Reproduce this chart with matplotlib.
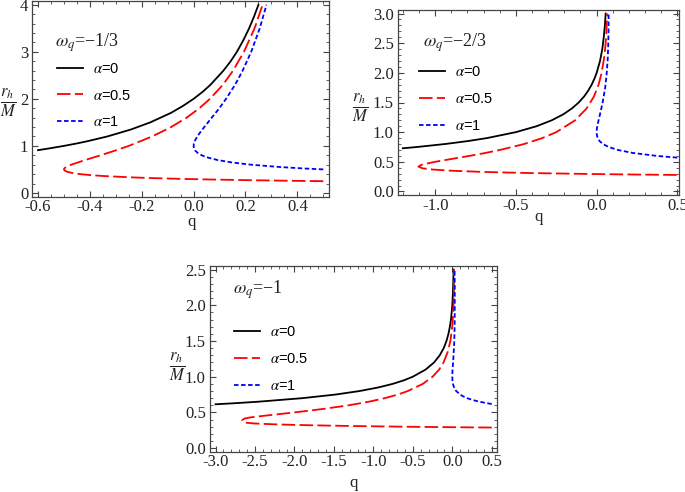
import matplotlib
matplotlib.use('Agg')
import matplotlib.pyplot as plt
from matplotlib.ticker import MultipleLocator

plt.rcParams['mathtext.fontset'] = 'stix'
plt.rcParams['font.family'] = ['Liberation Serif', 'DejaVu Serif']

# ---------------- data (r_h/M on y, q on x) ----------------
# omega_q = -1/3
r_w1_a0 = [0.909, 0.95, 1.0, 1.05, 1.1, 1.2, 1.35, 1.5, 1.7, 1.85, 2.0, 2.15, 2.3, 2.6, 2.8, 3.0, 3.25, 3.5, 3.75, 4.0]
q_w1_a0 = [-0.600, -0.553, -0.500, -0.452, -0.409, -0.333, -0.241, -0.167, -0.088, -0.041, 0.000, 0.035, 0.065, 0.115, 0.143, 0.167, 0.192, 0.214, 0.233, 0.250]
r_w1_a05 = [0.25, 0.26, 0.27, 0.285, 0.30, 0.315, 0.33, 0.36, 0.38, 0.40, 0.42, 0.45, 0.475, 0.50, 0.525, 0.55, 0.60, 0.70, 0.80, 0.90, 1.0, 1.2, 1.4, 1.6, 1.8, 2.0, 2.3, 2.6, 3.0, 3.5, 4.0]
q_w1_a05 = [0.500, 0.352, 0.226, 0.069, -0.056, -0.155, -0.235, -0.349, -0.400, -0.438, -0.464, -0.488, -0.497, -0.500, -0.498, -0.492, -0.472, -0.418, -0.359, -0.303, -0.250, -0.160, -0.087, -0.027, 0.022, 0.063, 0.113, 0.152, 0.194, 0.235, 0.266]
r_w1_a1 = [0.50, 0.52, 0.55, 0.60, 0.65, 0.70, 0.75, 0.80, 0.85, 0.90, 0.95, 1.0, 1.05, 1.1, 1.2, 1.3, 1.4, 1.6, 1.8, 2.0, 2.3, 2.6, 3.0, 3.5, 4.0]
q_w1_a1 = [0.500, 0.426, 0.335, 0.222, 0.145, 0.092, 0.056, 0.031, 0.016, 0.006, 0.001, 0.000, 0.001, 0.004, 0.014, 0.027, 0.041, 0.070, 0.099, 0.125, 0.160, 0.189, 0.222, 0.255, 0.281]

# omega_q = -2/3
r_w2_a0 = [0.728, 0.75, 0.80, 0.85, 0.90, 1.0, 1.1, 1.2, 1.3, 1.4, 1.5, 1.6, 1.7, 1.8, 1.9, 2.0, 2.2, 2.4, 2.6, 2.8, 3.0]
q_w2_a0 = [-1.200, -1.111, -0.938, -0.796, -0.679, -0.500, -0.372, -0.278, -0.207, -0.153, -0.111, -0.078, -0.052, -0.031, -0.014, 0.000, 0.021, 0.035, 0.044, 0.051, 0.056]
r_w2_a05 = [0.278, 0.285, 0.295, 0.31, 0.32, 0.33, 0.35, 0.37, 0.39, 0.419, 0.45, 0.50, 0.55, 0.60, 0.65, 0.70, 0.80, 0.90, 1.0, 1.2, 1.4, 1.6, 1.8, 2.0, 2.3, 2.6, 3.0]
q_w2_a05 = [0.496, 0.243, -0.058, -0.401, -0.574, -0.711, -0.904, -1.018, -1.078, -1.104, -1.084, -1.000, -0.894, -0.787, -0.687, -0.598, -0.449, -0.336, -0.250, -0.133, -0.062, -0.017, 0.012, 0.031, 0.049, 0.059, 0.065]
r_w2_a1 = [0.57, 0.60, 0.65, 0.70, 0.75, 0.80, 0.85, 0.90, 0.95, 1.0, 1.05, 1.1, 1.2, 1.35, 1.5, 1.75, 2.0, 2.25, 2.5, 2.75, 3.0]
q_w2_a1 = [0.499, 0.370, 0.223, 0.131, 0.074, 0.039, 0.018, 0.007, 0.0015, 0.000, 0.001, 0.004, 0.012, 0.025, 0.037, 0.053, 0.0625, 0.069, 0.072, 0.074, 0.074]

# omega_q = -1
r_w3_a0 = [0.6136, 0.63, 0.65, 0.70, 0.75, 0.80, 0.85, 0.90, 0.95, 1.0, 1.1, 1.2, 1.3, 1.4, 1.5, 1.6, 1.7, 1.8, 2.0, 2.2, 2.5]
q_w3_a0 = [-3.000, -2.740, -2.458, -1.895, -1.481, -1.172, -0.936, -0.754, -0.612, -0.500, -0.338, -0.231, -0.159, -0.109, -0.074, -0.049, -0.031, -0.017, 0.000, 0.009, 0.016]
r_w3_a05 = [0.2881, 0.29, 0.295, 0.30, 0.31, 0.32, 0.325, 0.33, 0.335, 0.345, 0.357, 0.372, 0.386, 0.40, 0.415, 0.43, 0.45, 0.475, 0.50, 0.55, 0.60, 0.65, 0.70, 0.75, 0.80, 0.90, 1.0, 1.1, 1.2, 1.35, 1.5, 1.7, 1.9, 2.2, 2.5]
q_w3_a05 = [0.500, 0.290, -0.196, -0.617, -1.294, -1.793, -1.989, -2.154, -2.294, -2.504, -2.620, -2.655, -2.662, -2.655, -2.630, -2.561, -2.408, -2.204, -2.000, -1.626, -1.312, -1.057, -0.854, -0.691, -0.562, -0.373, -0.250, -0.167, -0.111, -0.057, -0.025, -0.001, 0.012, 0.020, 0.022]
r_w3_a1 = [0.618, 0.63, 0.65, 0.675, 0.70, 0.725, 0.75, 0.80, 0.85, 0.90, 0.95, 1.0, 1.05, 1.1, 1.2, 1.35, 1.5, 1.75, 2.0, 2.25, 2.5]
q_w3_a1 = [0.500, 0.435, 0.343, 0.254, 0.187, 0.137, 0.099, 0.049, 0.022, 0.008, 0.0015, 0.000, 0.001, 0.003, 0.010, 0.018, 0.025, 0.030, 0.031, 0.031, 0.029]

legend_labels = [r'$\alpha$=0', r'$\alpha$=0.5', r'$\alpha$=1']
omega_labels = [r'$\omega_q$=−1/3', r'$\omega_q$=−2/3', r'$\omega_q$=−1']

panels = [
    dict(rect=(32.3, 1.0, 329.0, 196.7), xlim=(-0.622, 0.522), ylim=(-0.08, 4.08),
         xmaj=0.2, xmin=0.05, ymaj=1.0, ymin=0.2, yfmt='%d',
         data=[(q_w1_a0, r_w1_a0), (q_w1_a05, r_w1_a05), (q_w1_a1, r_w1_a1)],
         omega=(0.0765, 0.785), leg=(0.083, 0.69), xlab=(0.537, -0.09), ylab=(-0.082, 0.479)),
    dict(rect=(398.0, 10.0, 679.0, 195.0), xlim=(-1.23, 0.51), ylim=(-0.06, 3.06),
         xmaj=0.5, xmin=0.1, ymaj=0.5, ymin=0.1, yfmt='%.1f',
         data=[(q_w2_a0, r_w2_a0), (q_w2_a05, r_w2_a05), (q_w2_a1, r_w2_a1)],
         omega=(0.0904, 0.822), leg=(0.0747, 0.70), xlab=(0.5, -0.075), ylab=(-0.135, 0.47)),
    dict(rect=(210.0, 266.0, 497.3, 451.7), xlim=(-3.07, 0.57), ylim=(-0.05, 2.55),
         xmaj=0.5, xmin=0.1, ymaj=0.5, ymin=0.1, yfmt='%.1f',
         data=[(q_w3_a0, r_w3_a0), (q_w3_a05, r_w3_a05), (q_w3_a1, r_w3_a1)],
         omega=(0.081, 0.871), leg=(0.0835, 0.68), xlab=(0.5, -0.125), ylab=(-0.115, 0.456)),
]

W, H = 685.0, 492.0
fig = plt.figure(figsize=(W / 100, H / 100), dpi=100)

styles = [dict(color='black'), dict(color='red', dashes=(7.5, 2.4)), dict(color='blue', dashes=(2.5, 1.4))]

for i, p in enumerate(panels):
    x0, y0, x1, y1 = p['rect']
    ax = fig.add_axes([x0 / W, 1 - y1 / H, (x1 - x0) / W, (y1 - y0) / H])
    lines = []
    for (qq, rr), st in zip(p['data'], styles):
        ln, = ax.plot(qq, rr, lw=1.3, **st)
        lines.append(ln)
    ax.set_xlim(*p['xlim'])
    ax.set_ylim(*p['ylim'])
    ax.xaxis.set_major_locator(MultipleLocator(p['xmaj']))
    ax.xaxis.set_minor_locator(MultipleLocator(p['xmin']))
    ax.yaxis.set_major_locator(MultipleLocator(p['ymaj']))
    ax.yaxis.set_minor_locator(MultipleLocator(p['ymin']))
    ax.yaxis.set_major_formatter(matplotlib.ticker.FormatStrFormatter(p['yfmt']))
    ax.xaxis.set_major_formatter(matplotlib.ticker.FormatStrFormatter('%.1f'))
    ax.tick_params(which='both', direction='in', top=True, right=True, color='#444444',
                   labelsize=12, labelcolor='#222222')
    ax.tick_params(axis='x', pad=2)
    ax.tick_params(axis='y', pad=3)
    ax.tick_params(which='major', length=4.5, width=0.8)
    ax.tick_params(which='minor', length=2.5, width=0.6)
    for s in ax.spines.values():
        s.set_color('#444444')
        s.set_linewidth(0.9)
    ax.set_xlabel('q', fontsize=12, color='#222222')
    ax.xaxis.set_label_coords(*p['xlab'])
    ax.set_ylabel(r'$\frac{r_h}{M}$', fontsize=17, rotation=0, ha='center', va='center', color='#222222')
    ax.yaxis.set_label_coords(*p['ylab'])
    ax.text(p['omega'][0], p['omega'][1], omega_labels[i], transform=ax.transAxes,
            fontsize=13, va='center', ha='left', color='#222222')
    ax.legend(lines, legend_labels, loc='upper left', bbox_to_anchor=p['leg'], frameon=False,
              prop=dict(family='Liberation Sans', size=10.5), handlelength=1.8, handletextpad=0.65,
              labelspacing=0.88, borderpad=0, borderaxespad=0)

fig.savefig('out.png', dpi=100)
